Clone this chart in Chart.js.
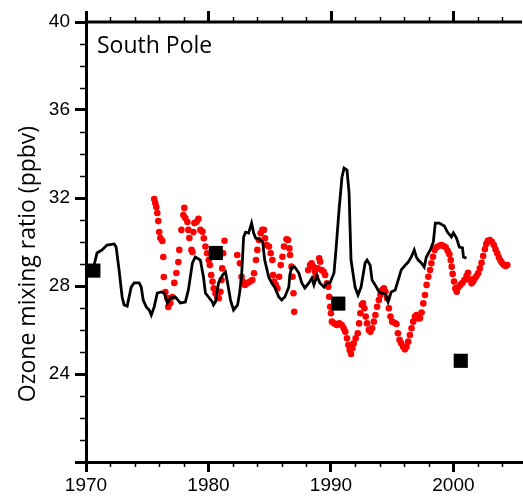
<!DOCTYPE html>
<html>
<head>
<meta charset="utf-8">
<script src="https://cdn.jsdelivr.net/npm/chart.js@4.4.1/dist/chart.umd.min.js"></script>
<style>
  body { margin: 0; background: #fff; }
  canvas { display: block; }
</style>
</head>
<body>
<canvas id="ozone" width="523" height="496"></canvas>
<script>
// black line (monthly smoothed record)
const lineYears = [1970.08,1970.66,1970.90,1971.31,1971.72,1972.30,1972.46,1972.70,1972.95,1973.11,
  1973.36,1973.69,1973.93,1974.34,1974.51,1974.67,1974.92,1975.16,1975.33,1975.57,
  1975.82,1976.15,1976.39,1976.64,1976.89,1977.30,1977.70,1978.11,1978.36,1978.69,
  1978.93,1979.34,1979.59,1979.75,1980.00,1980.33,1980.41,1980.57,1980.82,1981.15,
  1981.39,1981.56,1981.80,1982.05,1982.38,1982.54,1982.70,1982.87,1983.03,1983.28,
  1983.52,1983.69,1983.85,1984.10,1984.43,1984.59,1984.92,1985.16,1985.41,1985.74,
  1985.98,1986.23,1986.56,1986.64,1986.80,1987.05,1987.38,1987.62,1987.87,1988.20,
  1988.44,1988.61,1988.85,1989.10,1989.43,1989.67,1989.92,1990.25,1990.41,1990.66,
  1990.90,1991.07,1991.31,1991.48,1991.56,1991.64,1991.97,1992.21,1992.46,1992.79,
  1992.95,1993.20,1993.36,1993.61,1993.93,1994.10,1994.43,1994.67,1994.92,1995.25,
  1995.49,1995.74,1996.07,1996.31,1996.56,1996.80,1996.97,1997.13,1997.38,1997.62,
  1997.79,1998.11,1998.36,1998.52,1998.85,1999.26,1999.51,1999.84,2000.00,2000.25,
  2000.49,2000.74,2000.82,2001.07];
const lineValues = [28.73,28.95,29.50,29.64,29.86,29.91,29.77,28.73,27.50,27.14,
  27.09,27.95,28.14,28.14,27.95,27.36,27.05,26.91,26.68,27.05,
  27.68,27.73,27.68,27.23,27.45,27.50,27.23,27.27,27.82,29.05,
  29.32,29.18,28.41,27.68,27.50,27.27,27.14,27.27,28.14,28.50,
  28.64,28.14,27.36,26.91,27.14,27.68,28.41,30.23,30.45,30.41,
  30.86,30.41,30.18,30.14,30.00,29.18,28.41,28.14,27.95,27.50,
  27.36,27.50,27.95,28.50,28.86,28.86,28.59,28.14,27.91,28.14,
  28.36,28.05,28.45,28.14,27.95,28.14,28.14,28.59,29.64,31.45,
  32.95,33.36,33.27,32.23,30.68,29.18,27.95,27.59,27.95,29.05,
  29.18,28.95,28.27,28.05,27.73,27.68,27.64,27.27,27.73,27.82,
  28.27,28.73,28.95,29.09,29.32,29.64,29.32,29.18,29.05,28.86,
  29.32,29.64,30.00,30.86,30.86,30.73,30.45,30.23,30.41,30.18,
  29.77,29.73,29.32,29.27];

// red dots
const dotYears = [1975.57,1975.66,1975.74,1975.82,1975.90,1975.98,1976.07,1976.23,1976.31,1976.35,
  1976.48,1976.64,1976.72,1976.89,1977.05,1977.21,1977.38,1977.54,1977.62,1977.79,
  1977.95,1978.03,1978.11,1978.28,1978.36,1978.44,1978.61,1978.69,1978.77,1978.85,
  1979.02,1979.18,1979.34,1979.51,1979.62,1979.75,1979.89,1980.02,1980.11,1980.22,
  1980.33,1980.43,1980.57,1980.71,1980.84,1980.98,1981.07,1981.12,1981.20,1981.31,
  1982.35,1982.57,1982.70,1982.81,1982.98,1983.17,1983.39,1983.58,1983.72,1983.88,
  1983.99,1984.12,1984.26,1984.40,1984.53,1984.62,1984.75,1984.94,1985.08,1985.22,
  1985.27,1985.35,1985.49,1985.63,1985.77,1985.90,1986.04,1986.17,1986.37,1986.50,
  1986.61,1986.66,1986.78,1986.86,1986.94,1987.00,
  1988.14,1988.30,1988.42,1988.55,1988.69,1988.77,1988.91,1989.04,1989.12,1989.24,
  1989.40,1989.53,1989.67,1989.78,1989.86,1989.94,1990.00,1990.08,1990.27,1990.47,
  1990.68,1990.88,1991.04,1991.17,1991.31,1991.42,1991.53,1991.64,1991.75,1991.86,
  1992.02,1992.19,1992.30,1992.40,1992.52,1992.62,1992.73,1992.84,1992.95,1993.09,
  1993.22,1993.36,1993.50,1993.63,1993.77,1993.91,1994.04,1994.18,1994.32,1994.45,
  1994.59,1994.73,1994.86,1995.00,1995.19,1995.35,1995.47,1995.60,1995.74,1995.90,
  1996.04,1996.17,1996.31,1996.45,1996.58,1996.72,1996.86,1996.99,1997.13,1997.27,
  1997.40,1997.54,1997.68,1997.81,1997.95,1998.09,1998.20,1998.33,1998.47,1998.63,
  1998.83,1999.02,1999.20,1999.37,1999.53,1999.67,1999.78,1999.86,1999.94,2000.05,
  2000.16,2000.27,2000.41,2000.57,2000.74,2000.90,2001.07,2001.20,2001.34,2001.48,
  2001.61,2001.75,2001.89,2002.02,2002.16,2002.30,2002.43,2002.57,2002.68,2002.81,
  2002.98,2003.14,2003.30,2003.44,2003.58,2003.71,2003.85,2003.99,2004.12,2004.26,
  2004.40];
const dotValues = [31.95,31.77,31.59,31.32,30.95,30.45,30.18,30.05,29.32,28.41,
  27.73,27.45,27.05,27.23,27.50,28.14,28.59,29.09,29.64,30.55,
  31.23,31.55,31.09,30.91,30.55,30.18,29.64,29.55,30.45,30.86,
  30.91,31.05,30.55,30.47,30.17,29.79,29.49,29.18,28.95,28.50,
  28.20,27.89,27.67,27.51,27.44,27.74,28.27,28.80,29.49,30.06,
  29.41,29.03,28.42,28.20,28.05,28.12,28.20,28.27,28.58,29.18,
  29.64,30.09,30.40,30.55,30.55,30.17,29.86,29.79,29.49,29.18,
  28.50,28.20,28.05,27.89,28.42,28.95,29.33,29.79,30.12,30.09,
  29.71,29.41,28.88,28.42,27.67,26.83,
  28.73,28.95,29.03,28.88,28.65,28.42,28.80,29.26,29.10,28.73,
  28.65,28.50,28.12,27.97,27.51,27.06,26.76,26.38,26.30,26.23,
  26.30,26.23,26.08,25.92,25.62,25.32,25.09,24.91,25.17,25.39,
  25.62,25.85,26.30,26.76,27.14,27.21,26.99,26.61,26.30,26.00,
  25.92,26.08,26.38,26.68,27.06,27.36,27.59,27.82,27.89,27.74,
  27.44,26.99,26.61,26.38,26.33,26.27,25.85,25.55,25.39,25.24,
  25.12,25.24,25.47,25.77,26.08,26.38,26.61,26.68,26.53,26.53,
  26.79,27.21,27.59,28.05,28.42,28.73,29.03,29.33,29.64,29.76,
  29.83,29.86,29.82,29.76,29.60,29.44,29.18,28.88,28.55,28.20,
  27.89,27.74,27.94,28.05,28.15,28.27,28.45,28.60,28.30,28.12,
  28.20,28.35,28.45,28.58,28.80,29.06,29.36,29.67,29.91,30.06,
  30.09,30.01,29.86,29.67,29.49,29.30,29.15,29.03,28.95,28.91,
  28.95];

// black squares (decadal values)
const squareYears = [1970.6, 1980.6, 1990.6, 2000.6];
const squareValues = [28.7, 29.5, 27.2, 24.6];

const xMajor = [1970, 1980, 1990, 2000];
const yLabels = [24, 28, 32, 36, 40];

const pairs = (xs, ys) => xs.map((x, i) => ({ x: x, y: ys[i] }));

const axesExtras = {
  id: 'axesExtras',
  afterDraw(chart) {
    const ctx = chart.ctx;
    const a = chart.chartArea;
    const xs = chart.scales.x;
    const ys = chart.scales.y;
    ctx.save();
    ctx.strokeStyle = '#000';
    // top axis line
    ctx.lineWidth = 3;
    ctx.beginPath();
    ctx.moveTo(a.left, a.top);
    ctx.lineTo(a.right, a.top);
    ctx.stroke();
    // x ticks: minor every 2 years, top major ticks
    for (let yr = 1970; yr <= 2005; yr += 2) {
      const px = Math.round(xs.getPixelForValue(yr)) + 0.5;
      if (yr % 10 === 0) {
        ctx.lineWidth = 3;
        ctx.beginPath();
        ctx.moveTo(px, a.top);
        ctx.lineTo(px, a.top - 11);
        ctx.stroke();
      } else {
        ctx.lineWidth = 1.5;
        ctx.beginPath();
        ctx.moveTo(px, a.bottom);
        ctx.lineTo(px, a.bottom + 5);
        ctx.moveTo(px, a.top);
        ctx.lineTo(px, a.top - 5);
        ctx.stroke();
      }
    }
    // y minor ticks every 1 ppbv
    ctx.lineWidth = 1.5;
    for (let v = 21; v < 40; v++) {
      if (v % 4 === 0) continue;
      const py = Math.round(ys.getPixelForValue(v)) + 0.5;
      ctx.beginPath();
      ctx.moveTo(a.left, py);
      ctx.lineTo(a.left - 6, py);
      ctx.stroke();
    }
    // y title
    ctx.fillStyle = '#000';
    ctx.font = '23px "Open Sans"';
    ctx.textAlign = 'center';
    ctx.textBaseline = 'alphabetic';
    ctx.translate(35, 264);
    ctx.rotate(-Math.PI / 2);
    ctx.fillText('Ozone mixing ratio (ppbv)', 0, 0);
    ctx.restore();
    // station label
    ctx.save();
    ctx.fillStyle = '#000';
    ctx.font = '23px "Open Sans"';
    ctx.textAlign = 'left';
    ctx.textBaseline = 'alphabetic';
    ctx.fillText('South Pole', 97, 53);
    ctx.restore();
  }
};

const ozoneChart = new Chart(document.getElementById('ozone'), {
  type: 'scatter',
  data: {
    datasets: [
      {
        label: 'decadal',
        data: pairs(squareYears, squareValues),
        pointStyle: 'rect',
        pointRadius: 10,
        pointBackgroundColor: '#000',
        pointBorderWidth: 0,
        showLine: false
      },
      {
        label: 'smoothed',
        data: pairs(lineYears, lineValues),
        showLine: true,
        borderColor: '#000',
        borderWidth: 2.8,
        pointRadius: 0,
        tension: 0
      },
      {
        label: 'red',
        data: pairs(dotYears, dotValues),
        showLine: false,
        pointRadius: 3.3,
        pointBackgroundColor: '#ff0000',
        pointBorderWidth: 0
      }
    ]
  },
  options: {
    responsive: false,
    animation: false,
    layout: { autoPadding: false, padding: { top: 22, right: 1, left: 0, bottom: 0 } },
    plugins: { legend: { display: false }, tooltip: { enabled: false } },
    scales: {
      x: {
        type: 'linear',
        min: 1970,
        max: 2005.6,
        afterBuildTicks: (s) => { s.ticks = xMajor.map(v => ({ value: v })); },
        afterFit: (s) => { s.height = 34; },
        ticks: {
          color: '#000',
          font: { family: '"Liberation Sans", Arial', size: 19 },
          padding: 2,
          maxRotation: 0,
          autoSkip: false,
          callback: (v) => String(v)
        },
        grid: { drawOnChartArea: false, tickLength: 10, tickWidth: 3, tickColor: '#000' },
        border: { display: true, width: 3, color: '#000' }
      },
      y: {
        min: 20,
        max: 40,
        afterBuildTicks: (s) => { s.ticks = [20].concat(yLabels).map(v => ({ value: v })); },
        afterFit: (s) => { s.width = 86; },
        ticks: {
          color: '#000',
          font: { family: '"Liberation Sans", Arial', size: 19 },
          padding: 5,
          callback: (v) => (v === 20 ? '' : String(v))
        },
        grid: { drawOnChartArea: false, tickLength: 11, tickWidth: 3, tickColor: '#000' },
        border: { display: true, width: 3, color: '#000' }
      }
    }
  },
  plugins: [axesExtras]
});
</script>
</body>
</html>
